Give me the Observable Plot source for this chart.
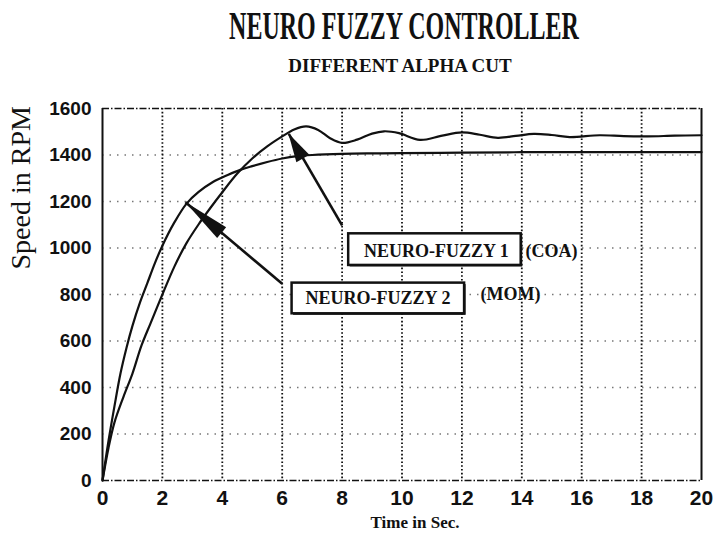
<!DOCTYPE html>
<html>
<head>
<meta charset="utf-8">
<script src="https://cdn.jsdelivr.net/npm/d3@7"></script>
<script src="https://cdn.jsdelivr.net/npm/@observablehq/plot@0.6"></script>
<style>
html,body{margin:0;padding:0;background:#fff;}
#wrap{position:relative;width:713px;height:540px;overflow:hidden;background:#fff;}
#head{position:relative;height:88px;font-family:"Liberation Serif","Times New Roman",serif;color:#111;}
.t{position:absolute;white-space:nowrap;font-weight:bold;}
#title{left:404px;top:6px;font-size:40px;line-height:40px;transform:translateX(-50%) scaleX(0.6);}
#subtitle{left:400px;top:56px;font-size:19px;line-height:19px;transform:translateX(-50%);}
#chart svg{display:block;}
</style>
</head>
<body>
<div id="wrap">
  <div id="head">
    <div class="t" id="title"></div>
    <div class="t" id="subtitle"></div>
  </div>
  <div id="chart"></div>
</div>
<script>
// ---- text ----
const titleText = "NEURO FUZZY CONTROLLER";
const subtitleText = "DIFFERENT ALPHA CUT";
const xLabel = "Time in Sec.";
const yLabel = "Speed in RPM";

// ---- series: NEURO-FUZZY 1 (COA) ----
const timeCOA  = [0, 0.2, 0.4, 0.7, 1.0, 1.3, 1.6, 2.0, 2.4, 2.8, 3.2, 3.6, 4.0, 4.5, 5.0, 5.5, 6.0, 6.4, 6.8, 7.2, 7.6, 8.0, 8.5, 9.0, 9.4, 9.9, 10.6, 11.3, 12.0, 12.6, 13.2, 13.8, 14.4, 15.0, 15.6, 16.6, 17.4, 18.2, 19.1, 20];
const speedCOA = [0, 140, 250, 360, 460, 580, 675, 800, 920, 1020, 1100, 1172, 1240, 1320, 1385, 1437, 1480, 1510, 1523, 1508, 1472, 1452, 1466, 1492, 1502, 1494, 1465, 1482, 1497, 1487, 1474, 1482, 1491, 1486, 1477, 1485, 1481, 1480, 1483, 1485];

// ---- series: NEURO-FUZZY 2 (MOM) ----
const timeMOM  = [0, 0.2, 0.4, 0.6, 0.8, 1.0, 1.25, 1.5, 1.75, 2.0, 2.4, 2.8, 3.2, 3.7, 4.2, 4.6, 5.0, 5.5, 6.0, 6.5, 7.0, 8.0, 9.0, 10, 12, 14, 16, 18, 20];
const speedMOM = [0, 170, 320, 460, 570, 665, 765, 850, 935, 1010, 1110, 1190, 1240, 1285, 1315, 1336, 1352, 1370, 1385, 1395, 1400, 1405, 1407, 1408, 1410, 1412, 1412, 1412, 1412];

// ---- ticks ----
const xTicks = [0, 2, 4, 6, 8, 10, 12, 14, 16, 18, 20];
const yTicks = [0, 200, 400, 600, 800, 1000, 1200, 1400, 1600];

// ---- annotations (data units) ----
const labelNames   = ["NEURO-FUZZY 1", "NEURO-FUZZY 2"];
const labelMethods = ["(COA)", "(MOM)"];
const boxX1 = [8.22, 6.33];
const boxX2 = [13.98, 12.09];
const boxY1 = [925, 717];
const boxY2 = [1061, 849];
const labelX = [11.15, 9.2];
const labelY = [988, 783];
const methodX = [14.12, 12.62];
const methodY = [988, 800];
const arrowFromX = [8.0, 6.0];
const arrowFromY = [1097, 846];
const arrowToX = [6.22, 2.77];
const arrowToY = [1491, 1197];

document.getElementById("title").textContent = titleText;
document.getElementById("subtitle").textContent = subtitleText;

const coa = timeCOA.map((t, i) => ({t, v: speedCOA[i]}));
const mom = timeMOM.map((t, i) => ({t, v: speedMOM[i]}));
const ann = labelNames.map((_, i) => i);

const ink = "#111";
const serif = "Liberation Serif, Times New Roman, serif";
const sans = "Liberation Sans, Arial, sans-serif";

const headLen = [29, 48];
const headWid = [15, 14];
function arrowHeads(index, scales) {
  const g = d3.create("svg:g");
  ann.forEach(i => {
    const x0 = scales.x(arrowFromX[i]), y0 = scales.y(arrowFromY[i]);
    const x1 = scales.x(arrowToX[i]), y1 = scales.y(arrowToY[i]);
    const dx = x1 - x0, dy = y1 - y0, L = Math.hypot(dx, dy);
    const ux = dx / L, uy = dy / L;
    const bx = x1 - ux * headLen[i], by = y1 - uy * headLen[i];
    const hw = headWid[i] / 2;
    g.append("path")
      .attr("d", `M${x1},${y1}L${bx - uy * hw},${by + ux * hw}L${bx + uy * hw},${by - ux * hw}Z`)
      .attr("fill", ink);
  });
  return g.node();
}

const chart = Plot.plot({
  width: 713,
  height: 452,
  marginTop: 20,
  marginBottom: 60,
  marginLeft: 102,
  marginRight: 12,
  style: {background: "white", color: ink, overflow: "visible"},
  x: {domain: [0, 20]},
  y: {domain: [0, 1600]},
  marks: [
    // grid
    Plot.ruleY(yTicks.filter(d => d > 0 && d < 1600), {stroke: "#777", strokeWidth: 1.3, strokeDasharray: "1.5,6"}),
    Plot.ruleX(xTicks.filter(d => d > 0 && d < 20), {stroke: ink, strokeWidth: 1.8, strokeDasharray: "1.6,2.2"}),
    Plot.ruleY([0, 1600], {stroke: ink, strokeWidth: 1.6, strokeDasharray: "7,2,1.5,2"}),
    Plot.ruleX([0, 20], {stroke: ink, strokeWidth: 2}),
    // axes
    Plot.axisX(xTicks, {tickSize: 0, tickPadding: 10, tickFormat: d => String(d), fontSize: 21, fontWeight: "bold", fontFamily: sans, label: null}),
    Plot.axisY(yTicks, {tickSize: 0, tickPadding: 11, tickFormat: d => String(d), fontSize: 19, fontWeight: "bold", fontFamily: sans, label: null}),
    Plot.text([xLabel], {text: d => d, frameAnchor: "bottom", dx: 13, dy: 47, fontSize: 17, fontWeight: "bold", fontFamily: serif, fill: ink}),
    Plot.text([yLabel], {text: d => d, frameAnchor: "left", dx: -81, dy: -25, rotate: -90, fontSize: 28, fontFamily: serif, fill: ink}),
    // curves
    Plot.line(coa, {x: "t", y: "v", curve: "catmull-rom", stroke: ink, strokeWidth: 2.2}),
    Plot.line(mom, {x: "t", y: "v", curve: "catmull-rom", stroke: ink, strokeWidth: 2.2}),
    // arrows
    Plot.link(ann, {x1: i => arrowFromX[i], y1: i => arrowFromY[i], x2: i => arrowToX[i], y2: i => arrowToY[i], stroke: ink, strokeWidth: 2.6}),
    arrowHeads,
    // label boxes
    Plot.rect(ann, {x1: i => boxX1[i], x2: i => boxX2[i], y1: i => boxY1[i], y2: i => boxY2[i], fill: ink, dx: 1.5, dy: 1.5}),
    Plot.rect(ann, {x1: i => boxX1[i], x2: i => boxX2[i], y1: i => boxY1[i], y2: i => boxY2[i], fill: "white", stroke: ink, strokeWidth: 2.5}),
    Plot.text(ann, {x: i => labelX[i], y: i => labelY[i], text: i => labelNames[i], fontSize: 18, fontWeight: "bold", fontFamily: serif, fill: ink}),
    Plot.text(ann, {x: i => methodX[i], y: i => methodY[i], text: i => labelMethods[i], textAnchor: "start", fontSize: 18, fontWeight: "bold", fontFamily: serif, fill: ink})
  ]
});
document.getElementById("chart").append(chart);
</script>
</body>
</html>
